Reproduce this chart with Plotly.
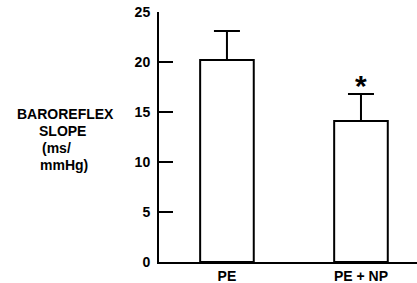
import plotly.graph_objects as go

categories = ["PE", "PE + NP"]
values = [20.2, 14.1]
errors = [2.9, 2.7]
y_ticks = [0, 5, 10, 15, 20, 25]
sig_marks = ["", "*"]
sig_y = [None, 18.0]
y_label_lines = ["BAROREFLEX", "SLOPE", "(ms/", "mmHg)"]

font = "Liberation Sans, Arial, Helvetica, sans-serif"

W, H = 417, 283
L, R, T, B = 159, 0, 12, 21
pw, ph = W - L - R, H - T - B

fig = go.Figure()
fig.add_trace(go.Bar(
    x=[0, 1], y=values, width=0.4,
    marker=dict(color="white", line=dict(color="black", width=2)),
    error_y=dict(type="data", symmetric=False, array=errors,
                 arrayminus=[0, 0], color="black", thickness=2, width=13),
))

for i, (m, sy) in enumerate(zip(sig_marks, sig_y)):
    if m:
        fig.add_annotation(x=i, y=sy, text="<b>" + m + "</b>", showarrow=False,
                           font=dict(size=30, color="black", family=font),
                           yanchor="middle", yshift=-3)

# y-axis title, placed line by line as in the original
label_pos = [(65, 114, "center"), (62, 131, "center"),
             (40, 148, "left"), (38, 165, "left")]
for txt, (px, py, al) in zip(y_label_lines, label_pos):
    fig.add_annotation(
        x=(px - L) / pw, y=(H - B - py) / ph, xref="paper", yref="paper",
        text="<b>" + txt + "</b>", showarrow=False, xanchor=al, yanchor="middle",
        font=dict(size=14, color="black", family=font))

fig.update_layout(
    width=W, height=H, margin=dict(l=L, r=R, t=T, b=B, autoexpand=False),
    plot_bgcolor="white", paper_bgcolor="white", showlegend=False,
    font=dict(family=font, size=14, color="black"),
)
fig.update_xaxes(range=[-0.507, 1.418], tickvals=[0, 1],
                 ticktext=["<b>" + c + "</b>" for c in categories],
                 showgrid=False, zeroline=False, showline=True, linecolor="black",
                 linewidth=2, ticks="", tickfont=dict(size=14), ticklabelstandoff=0,
                 automargin=False)
fig.update_yaxes(range=[0, 25], tickvals=y_ticks,
                 ticktext=["<b>%d</b>" % v for v in y_ticks],
                 showgrid=False, zeroline=False,
                 showline=True, linecolor="black", linewidth=2, ticks="inside",
                 ticklen=14, tickwidth=2, tickcolor="black", tickfont=dict(size=14),
                 ticklabelstandoff=4, automargin=False)

fig.write_html("out.html", config={"displayModeBar": False},
               post_script="document.body.style.margin='0';")
